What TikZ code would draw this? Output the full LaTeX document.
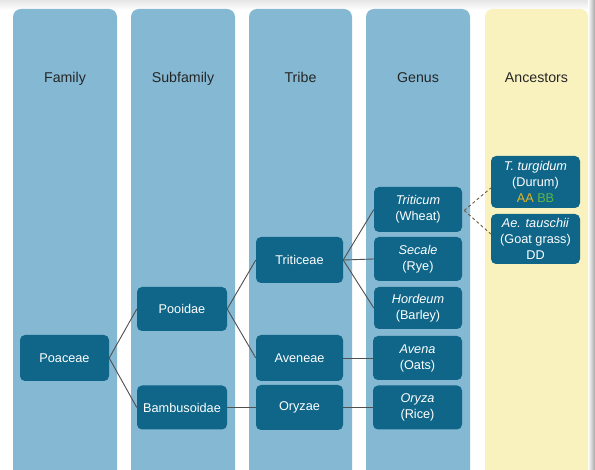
\documentclass[tikz,border=0pt]{standalone}
\usepackage{fontspec}
\setmainfont{Liberation Sans}
\usetikzlibrary{calc}
\definecolor{colblue}{HTML}{84B8D3}
\definecolor{colyellow}{HTML}{FAF2BE}
\definecolor{boxteal}{HTML}{0F6689}
\definecolor{linegray}{HTML}{505050}
\definecolor{dashbrown}{HTML}{6E5C3E}
\definecolor{aacol}{HTML}{E3B628}
\definecolor{bbcol}{HTML}{5DB547}
\begin{document}
\begin{tikzpicture}[x=1pt,y=-1pt,
  colbg/.style={rounded corners=8pt},
  head/.style={font=\fontsize{14.2}{16}\selectfont, text=black!85, anchor=base},
  taxon/.style={draw=none, fill=boxteal, rounded corners=5pt, text=white,
    font=\fontsize{12.7}{16}\selectfont, align=center, inner sep=0pt},
  link/.style={draw=linegray, line width=0.9pt},
  dlink/.style={draw=dashbrown, line width=0.9pt, dash pattern=on 3pt off 2.5pt}]
\useasboundingbox (0,0) rectangle (595,470);
\fill[white] (0,0) rectangle (595,470);
\shade[top color=black!10, bottom color=white] (0,0) rectangle (595,10);
\shade[left color=white, right color=black!35] (588,0) rectangle (595,470);
% columns
\fill[colblue, colbg] (13,9) rectangle (117,490);
\fill[colblue, colbg] (131,9) rectangle (235,490);
\fill[colblue, colbg] (249,9) rectangle (352,490);
\fill[colblue, colbg] (366,9) rectangle (470,490);
\fill[colyellow, colbg] (485,9) rectangle (588,490);
% headers
\node[head] (hfam) at (65,83) {Family};
\node[head] (hsub) at (183,83) {Subfamily};
\node[head] (htri) at (300.5,83) {Tribe};
\node[head] (hgen) at (418,83) {Genus};
\node[head] (hanc) at (536.5,83) {Ancestors};
% boxes
\node[taxon, minimum width=89pt, minimum height=46pt] (poa) at (64.5,358) {Poaceae};
\node[taxon, minimum width=90pt, minimum height=44pt] (poo) at (182,309) {Pooidae};
\node[taxon, minimum width=90pt, minimum height=44pt] (bam) at (182,407.5) {Bambusoidae};
\node[taxon, minimum width=87pt, minimum height=46pt] (trc) at (299.5,260) {Triticeae};
\node[taxon, minimum width=87pt, minimum height=46pt] (ave) at (299.5,358) {Aveneae};
\node[taxon, minimum width=87pt, minimum height=45pt] (ory) at (299.5,407.5) {Oryzae};
\node[taxon, minimum width=88pt, minimum height=45pt] (tri) at (418,209.5) {\textit{Triticum}\\(Wheat)};
\node[taxon, minimum width=88pt, minimum height=44pt] (sec) at (418,259) {\textit{Secale}\\(Rye)};
\node[taxon, minimum width=88pt, minimum height=42pt] (hor) at (418,308) {\textit{Hordeum}\\(Barley)};
\node[taxon, minimum width=89pt, minimum height=44pt] (avn) at (417.5,358) {\textit{Avena}\\(Oats)};
\node[taxon, minimum width=89pt, minimum height=44pt] (oza) at (417.5,407.5) {\textit{Oryza}\\(Rice)};
\node[taxon, minimum width=89pt, minimum height=52pt] (tur) at (535.5,182) {\textit{T. turgidum}\\(Durum)\\\textcolor{aacol}{AA} \textcolor{bbcol}{BB}};
\node[taxon, minimum width=89pt, minimum height=50pt] (tau) at (535.5,239) {\textit{Ae. tauschii}\\(Goat grass)\\DD};
% connectors
\draw[link] (poa.east) -- (poo.west);
\draw[link] (poa.east) -- (bam.west);
\draw[link] (poo.east) -- (trc.west);
\draw[link] (poo.east) -- (ave.west);
\draw[link] (bam.east) -- (ory.west);
\draw[link] (trc.east) -- (tri.west);
\draw[link] (trc.east) -- (sec.west);
\draw[link] (trc.east) -- (hor.west);
\draw[link] (ave.east) -- (avn.west);
\draw[link] (ory.east) -- (oza.west);
\draw[dlink] ($(tri.east)+(2,1)$) -- ($(tur.west)+(0,6)$);
\draw[dlink] ($(tri.east)+(2,1)$) -- ($(tau.west)+(0,-5)$);
\end{tikzpicture}
\end{document}
